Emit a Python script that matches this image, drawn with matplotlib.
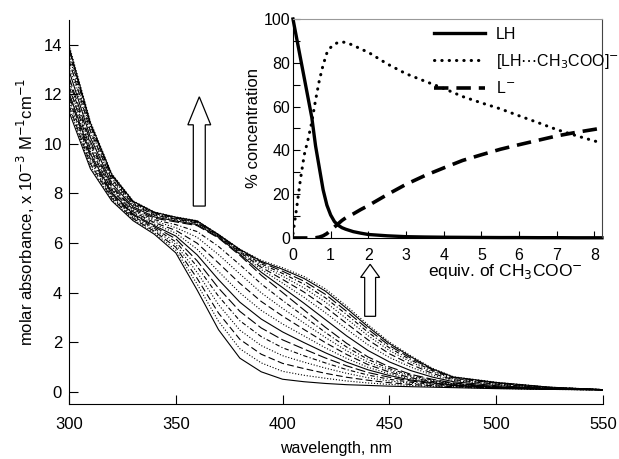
import matplotlib
matplotlib.use("Agg")
import matplotlib.pyplot as plt
from matplotlib.patches import FancyArrow
from matplotlib.ticker import MultipleLocator

plt.rcParams["font.family"] = ["Liberation Sans", "DejaVu Sans"]

# ── titration spectra (molar absorbance x 10^-3) ─────────────────────────
WAVELENGTH = [300, 310, 320, 330, 340, 350, 360, 370, 380, 390, 400,
              410, 420, 430, 440, 450, 460, 470, 480, 500, 525, 550]

SPECTRA = [
    [11.30, 9.00, 7.70, 6.90, 6.35, 5.60, 4.10, 2.50, 1.35, 0.80, 0.50, 0.40, 0.33, 0.28, 0.25, 0.22, 0.20, 0.18, 0.16, 0.12, 0.09, 0.07],
    [11.43, 9.10, 7.75, 6.95, 6.41, 5.71, 4.34, 2.84, 1.73, 1.16, 0.82, 0.66, 0.54, 0.43, 0.35, 0.29, 0.25, 0.21, 0.18, 0.13, 0.09, 0.07],
    [11.55, 9.20, 7.81, 6.99, 6.47, 5.83, 4.57, 3.17, 2.11, 1.51, 1.14, 0.93, 0.74, 0.58, 0.46, 0.36, 0.29, 0.24, 0.20, 0.14, 0.10, 0.07],
    [11.68, 9.30, 7.86, 7.04, 6.53, 5.94, 4.81, 3.51, 2.48, 1.86, 1.45, 1.19, 0.95, 0.74, 0.56, 0.43, 0.34, 0.27, 0.21, 0.14, 0.10, 0.07],
    [11.81, 9.40, 7.92, 7.08, 6.59, 6.05, 5.05, 3.85, 2.86, 2.22, 1.77, 1.45, 1.16, 0.89, 0.67, 0.50, 0.38, 0.30, 0.23, 0.15, 0.10, 0.07],
    [11.94, 9.50, 7.97, 7.13, 6.65, 6.17, 5.28, 4.18, 3.24, 2.57, 2.09, 1.72, 1.36, 1.04, 0.77, 0.58, 0.43, 0.33, 0.25, 0.16, 0.10, 0.07],
    [12.06, 9.60, 8.03, 7.17, 6.70, 6.28, 5.52, 4.52, 3.61, 2.93, 2.41, 1.98, 1.57, 1.19, 0.88, 0.65, 0.47, 0.36, 0.26, 0.16, 0.11, 0.08],
    [12.19, 9.70, 8.08, 7.22, 6.76, 6.40, 5.75, 4.85, 3.99, 3.28, 2.73, 2.25, 1.77, 1.34, 0.98, 0.72, 0.52, 0.38, 0.28, 0.17, 0.11, 0.08],
    [12.32, 9.80, 8.14, 7.26, 6.82, 6.51, 5.99, 5.19, 4.37, 3.64, 3.05, 2.51, 1.98, 1.50, 1.09, 0.79, 0.56, 0.41, 0.30, 0.18, 0.11, 0.08],
    [12.45, 9.90, 8.19, 7.31, 6.88, 6.62, 6.23, 5.53, 4.75, 3.99, 3.36, 2.77, 2.19, 1.65, 1.19, 0.86, 0.61, 0.44, 0.32, 0.19, 0.12, 0.08],
    [12.57, 10.00, 8.25, 7.35, 6.94, 6.74, 6.46, 5.86, 5.12, 4.35, 3.68, 3.04, 2.39, 1.80, 1.30, 0.93, 0.66, 0.47, 0.33, 0.19, 0.12, 0.08],
    [12.70, 10.10, 8.30, 7.40, 7.00, 6.85, 6.70, 6.20, 5.50, 4.70, 4.00, 3.30, 2.60, 1.95, 1.40, 1.00, 0.70, 0.50, 0.35, 0.20, 0.12, 0.08],
    [12.96, 10.26, 8.40, 7.46, 7.05, 6.89, 6.74, 6.23, 5.55, 4.82, 4.20, 3.57, 2.91, 2.25, 1.66, 1.20, 0.85, 0.59, 0.40, 0.24, 0.13, 0.08],
    [13.19, 10.40, 8.49, 7.51, 7.10, 6.93, 6.78, 6.26, 5.60, 4.93, 4.38, 3.81, 3.19, 2.52, 1.89, 1.38, 0.99, 0.67, 0.45, 0.27, 0.14, 0.08],
    [13.39, 10.52, 8.57, 7.56, 7.13, 6.96, 6.81, 6.28, 5.63, 5.02, 4.53, 4.02, 3.42, 2.75, 2.09, 1.53, 1.10, 0.74, 0.48, 0.30, 0.15, 0.08],
    [13.56, 10.63, 8.63, 7.60, 7.17, 6.98, 6.83, 6.30, 5.67, 5.10, 4.66, 4.19, 3.62, 2.94, 2.26, 1.66, 1.20, 0.80, 0.52, 0.32, 0.16, 0.08],
    [13.70, 10.72, 8.69, 7.63, 7.19, 7.00, 6.85, 6.32, 5.69, 5.16, 4.77, 4.34, 3.79, 3.11, 2.40, 1.77, 1.28, 0.85, 0.54, 0.34, 0.17, 0.08],
    [13.82, 10.79, 8.73, 7.66, 7.22, 7.02, 6.87, 6.33, 5.72, 5.22, 4.86, 4.46, 3.93, 3.24, 2.52, 1.86, 1.35, 0.89, 0.57, 0.36, 0.17, 0.08],
    [13.92, 10.85, 8.77, 7.68, 7.24, 7.04, 6.89, 6.34, 5.74, 5.26, 4.94, 4.57, 4.06, 3.36, 2.62, 1.94, 1.41, 0.92, 0.59, 0.37, 0.18, 0.08],
    [14.00, 10.90, 8.80, 7.70, 7.25, 7.05, 6.90, 6.35, 5.75, 5.30, 5.00, 4.65, 4.15, 3.45, 2.70, 2.00, 1.45, 0.95, 0.60, 0.38, 0.18, 0.08],
]

LINE_STYLES = ["-", ":", (0, (6, 3)), ":", (0, (4, 2, 1, 2)), (0, (9, 3))]

# ── species distribution (inset) ─────────────────────────────────────────
EQUIV = [0, 0.1, 0.2, 0.3, 0.4, 0.5, 0.6, 0.7, 0.8, 0.9, 1.0, 1.1, 1.2, 1.3,
         1.4, 1.6, 1.8, 2.0, 2.5, 3.0, 3.5, 4.0, 4.5, 5.0, 5.5, 6.0, 6.5,
         7.0, 7.5, 8.0, 8.2]
PCT_LH = [100, 91, 82, 73, 64, 55, 42, 32, 22, 15, 10.5, 7.5, 5.8, 4.7,
          4.0, 2.9, 2.2, 1.6, 1.0, 0.6, 0.45, 0.35, 0.3, 0.25, 0.2, 0.2,
          0.15, 0.15, 0.1, 0.1, 0.1]
PCT_COMPLEX = [2, 14, 27, 38, 45, 53, 63, 72, 79, 84.5, 87, 88.5, 89.3, 89.5,
               89.3, 88, 86.3, 84.8, 79.5, 75, 71.6, 68.3, 64.6, 61.7, 59,
               55.8, 52.7, 49.5, 46.8, 44.3, 43.4]
PCT_L = [0, 0, 0, 0, 0, 0, 0.1, 0.4, 1.0, 2.0, 3.5, 5.0, 6.5, 8.0, 9.2, 11,
         13, 14.8, 19.8, 24.5, 28.5, 32, 35.4, 38, 40.5, 42.6, 44.6, 46.6,
         48.2, 49.6, 50.2]


def main():
    fig = plt.figure(figsize=(6.19, 4.59), dpi=100)

    # main panel
    ax = fig.add_axes([0.1115, 0.1198, 0.8625, 0.8366])
    for i, spec in enumerate(SPECTRA):
        ax.plot(WAVELENGTH, spec, color="black", lw=0.8,
                ls=LINE_STYLES[i % len(LINE_STYLES)])
    ax.set_xlim(300, 550)
    ax.set_ylim(-0.5, 15)
    ax.set_xticks(range(300, 551, 50))
    ax.set_yticks(range(0, 15, 2))
    for s in ("top", "right"):
        ax.spines[s].set_visible(False)
    ax.tick_params(direction="in", length=6.5, labelsize=12, width=0.8)
    ax.tick_params(axis="x", pad=9)
    ax.tick_params(axis="y", pad=5)
    ax.set_xlabel("wavelength, nm", fontsize=11.5, labelpad=7)
    ax.set_ylabel("molar absorbance, x 10$^{-3}$ M$^{-1}$cm$^{-1}$",
                  fontsize=12, labelpad=5)

    # hollow arrows
    ax.add_patch(FancyArrow(361, 7.49, 0, 4.41, width=5.6, head_width=10.7,
                            head_length=1.13, length_includes_head=True,
                            facecolor="white", edgecolor="black", lw=0.9,
                            zorder=5))
    ax.add_patch(FancyArrow(441, 3.04, 0, 2.1, width=5.1, head_width=8.9,
                            head_length=0.53, length_includes_head=True,
                            facecolor="white", edgecolor="black", lw=0.9,
                            zorder=5))

    # inset: species distribution
    ins = fig.add_axes([0.4733, 0.4815, 0.4992, 0.4771])
    ins.patch.set_alpha(0)
    ins.plot(EQUIV, PCT_LH, color="black", lw=2.4, ls="-", label="LH",
             clip_on=False)
    ins.plot(EQUIV, PCT_COMPLEX, color="black", lw=2.2, ls=(0, (0.1, 2.3)),
             dash_capstyle="round", label="[LH$\\cdots$CH$_3$COO]$^{-}$")
    ins.plot(EQUIV, PCT_L, color="black", lw=2.6, ls=(0, (4, 2.2)),
             label="L$^{-}$")
    ins.set_xlim(0, 8.2)
    ins.set_ylim(0, 100)
    ins.xaxis.set_major_locator(MultipleLocator(1))
    ins.yaxis.set_major_locator(MultipleLocator(20))
    ins.yaxis.set_minor_locator(MultipleLocator(10))
    ins.tick_params(direction="in", length=5, labelsize=11.5, width=0.8)
    ins.tick_params(which="minor", direction="in", length=5, width=0.8)
    ins.tick_params(axis="x", pad=7)
    ins.tick_params(axis="y", pad=2)
    ins.spines["top"].set_color("#999999")
    ins.spines["right"].set_color("#444444")
    ins.spines["right"].set_linewidth(0.8)
    ins.set_xlabel("equiv. of CH$_3$COO$^{-}$", fontsize=12.5)
    ins.xaxis.set_label_coords(0.686, -0.11)
    ins.set_ylabel("% concentration", fontsize=12, labelpad=2)
    ins.legend(loc="upper left", bbox_to_anchor=(0.43, 1.0),
               frameon=False, fontsize=11.5, handlelength=3.2,
               handletextpad=0.7, labelspacing=0.6, borderaxespad=0.1)

    fig.savefig("out.png", dpi=100)


if __name__ == "__main__":
    main()
